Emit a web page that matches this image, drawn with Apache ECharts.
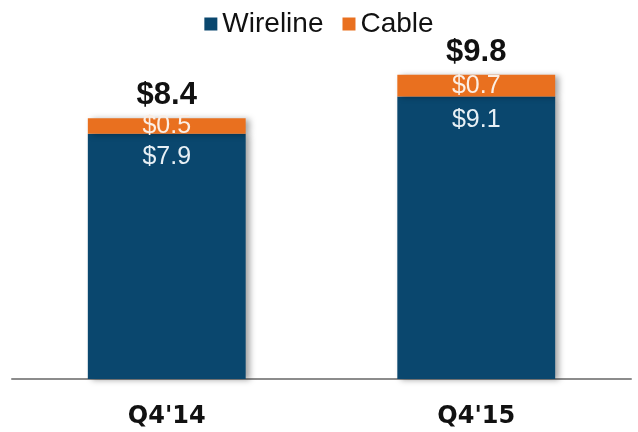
<!DOCTYPE html>
<html><head><meta charset="utf-8">
<script src="https://cdn.jsdelivr.net/npm/echarts@6/dist/echarts.min.js"></script>
<style>html,body{margin:0;padding:0;background:#fff}#c{width:638px;height:432px}</style>
</head><body><div id="c"></div>
<script>
const categories = ["Q4'14", "Q4'15"];
const wireline = [7.9, 9.1];
const cable = [0.5, 0.7];
const totals = [8.4, 9.8];

const BLUE = '#0a476e', ORANGE = '#e9701f';
const chart = echarts.init(document.getElementById('c'));
const shadow = {shadowColor:'rgba(0,0,0,0.35)', shadowBlur:6, shadowOffsetX:4, shadowOffsetY:1};
chart.setOption({
  animation:false,
  legend:{data:['Wireline','Cable'], top:5, left:'center', itemWidth:13, itemHeight:13, itemGap:19,
    icon:'rect', textStyle:{fontFamily:'Liberation Sans, Arial', fontSize:28, color:'#111'}},
  grid:{left:12, right:7, top:37.5, bottom:53},
  xAxis:{type:'category', data:categories,
    axisLine:{lineStyle:{color:'#8c8c8c', width:2}}, axisTick:{show:false},
    axisLabel:{margin:26, fontFamily:'DejaVu Sans', fontWeight:'bold', fontSize:24, color:'#111'}},
  yAxis:{type:'value', min:0, max:11, show:false, splitLine:{show:false}},
  series:[
    {name:'Wireline', type:'bar', stack:'s', data:wireline, barWidth:'51%',
      itemStyle:Object.assign({color:BLUE}, shadow),
      label:{show:true, position:'insideTop', distance:11, fontFamily:'Liberation Sans, Arial', fontSize:25, color:'#e8f0f5',
        formatter:p=>'$'+p.value.toFixed(1)}},
    {name:'Cable', type:'bar', stack:'s', data:cable, barWidth:'51%',
      itemStyle:Object.assign({color:ORANGE}, shadow),
      label:{show:true, position:'inside', fontFamily:'Liberation Sans, Arial', fontSize:25, color:'#fbeee4',
        formatter:p=>'$'+p.value.toFixed(1)}},
    {name:'Total', type:'bar', data:totals, barWidth:'51%', barGap:'-100%', z:1,
      itemStyle:{color:'rgba(0,0,0,0)'}, silent:true,
      label:{show:true, position:'top', distance:7, fontFamily:'Liberation Sans, Arial', fontWeight:'bold', fontSize:31, color:'#111',
        formatter:p=>'$'+p.value.toFixed(1)}}
  ]
});
</script></body></html>
